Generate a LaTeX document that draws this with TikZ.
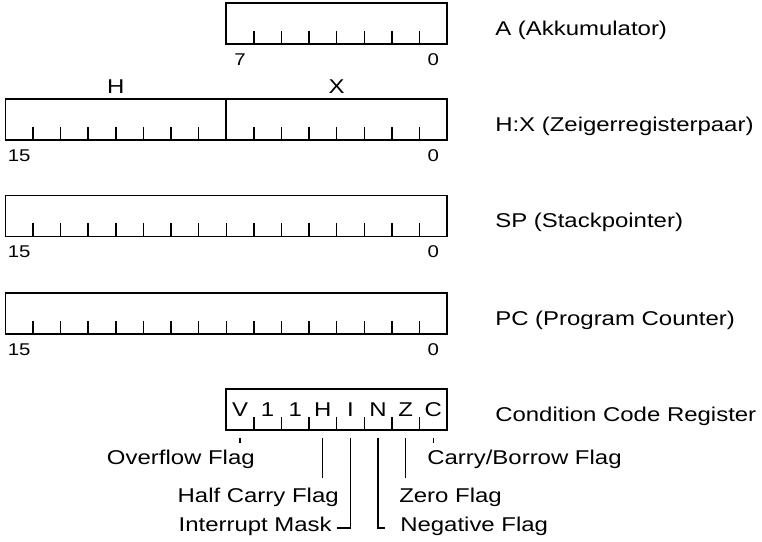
\documentclass[tikz,border=0pt]{standalone}
\usepackage{fontspec}
\setmainfont[FakeStretch=1.2]{Liberation Sans}
\usetikzlibrary{calc}

\begin{document}
\begin{tikzpicture}[
  reg/.style={draw,line width=1pt,minimum height=1.025cm,inner sep=0pt,outer sep=0pt},
  byte/.style={reg,minimum width=5.52cm},
  word/.style={reg,minimum width=11.04cm},
  tick/.style={line width=1pt},
  lead/.style={line width=0.8pt},
  lbl/.style={font=\fontsize{14.2}{17}\selectfont,inner sep=0pt},
  bitno/.style={font=\fontsize{12.1}{14}\selectfont,inner sep=0pt,anchor=base},
  bitname/.style={font=\fontsize{14.2}{17}\selectfont,inner sep=0pt,anchor=base},
]
\useasboundingbox (0,0) rectangle (19.05,13.55);

% === A (8 bit) ===
\node[byte] (acc) at (8.415,12.9625) {};
\foreach \i in {1,...,7}
  \draw[tick] ($(acc.south west)+(\i*0.69,0)$) -- ++(0,0.325);
\node[bitno] (acc7) at (6.0,11.92) {7};
\node[bitno] (acc0) at (10.83,11.92) {0};
\node[lbl,anchor=base west] (accname) at (12.375,12.66) {A (Akkumulator)};

% === H:X (2 x 8 bit) ===
\node[byte] (hreg) at (2.895,10.5625) {};
\node[byte] (xreg) at (8.415,10.5625) {};
\foreach \i in {1,...,7} {
  \draw[tick] ($(hreg.south west)+(\i*0.69,0)$) -- ++(0,0.325);
  \draw[tick] ($(xreg.south west)+(\i*0.69,0)$) -- ++(0,0.325);
}
\node[bitname] (hname) at (2.895,11.215) {H};
\node[bitname] (xname) at (8.415,11.215) {X};
\node[bitno] (hx15) at (0.48,9.52) {15};
\node[bitno] (hx0) at (10.83,9.52) {0};
\node[lbl,anchor=base west] (hxname) at (12.375,10.2625) {H:X (Zeigerregisterpaar)};

% === SP (16 bit) ===
\node[word] (sp) at (5.655,8.15) {};
\foreach \i in {1,...,15}
  \draw[tick] ($(sp.south west)+(\i*0.69,0)$) -- ++(0,0.325);
\node[bitno] (sp15) at (0.48,7.1075) {15};
\node[bitno] (sp0) at (10.83,7.1075) {0};
\node[lbl,anchor=base west] (spname) at (12.375,7.85) {SP (Stackpointer)};

% === PC (16 bit) ===
\node[word] (pc) at (5.655,5.71) {};
\foreach \i in {1,...,15}
  \draw[tick] ($(pc.south west)+(\i*0.69,0)$) -- ++(0,0.325);
\node[bitno] (pc15) at (0.48,4.6675) {15};
\node[bitno] (pc0) at (10.83,4.6675) {0};
\node[lbl,anchor=base west] (pcname) at (12.375,5.41) {PC (Program Counter)};

% === CCR ===
\node[byte] (ccr) at (8.415,3.31) {};
\foreach \i in {1,...,7}
  \draw[tick] ($(ccr.south west)+(\i*0.69,0)$) -- ++(0,0.325);
\node[bitname] (cV) at (6.0,3.1275) {V};
\node[bitname] (c6) at (6.69,3.1275) {1};
\node[bitname] (c5) at (7.38,3.1275) {1};
\node[bitname] (cH) at (8.07,3.1275) {H};
\node[bitname] (cI) at (8.76,3.1275) {I};
\node[bitname] (cN) at (9.45,3.1275) {N};
\node[bitname] (cZ) at (10.14,3.1275) {Z};
\node[bitname] (cC) at (10.83,3.1275) {C};
\node[lbl,anchor=base west] (ccrname) at (12.375,3.0) {Condition Code Register};

% Flags
\node[lbl,anchor=base east] (ovf) at (6.375,1.925) {Overflow Flag};
\node[lbl,anchor=base west] (cbf) at (10.675,1.925) {Carry/Borrow Flag};
\node[lbl,anchor=base east] (hcf) at (8.475,0.975) {Half Carry Flag};
\node[lbl,anchor=base west] (zf) at (9.975,0.975) {Zero Flag};
\node[lbl,anchor=base east] (im) at (8.3,0.25) {Interrupt Mask};
\node[lbl,anchor=base west] (nf) at (10.0,0.25) {Negative Flag};

\draw[lead] ($(ccr.south -| cV)+(0,-0.2)$) -- ++(0,-0.125);
\draw[lead] ($(ccr.south -| cC)+(0,-0.2)$) -- ++(0,-0.125);
\draw[lead] ($(ccr.south -| cH)+(0,-0.2)$) -- ++(0,-1.0);
\draw[lead] ($(ccr.south -| cZ)+(0,-0.2)$) -- ++(0,-1.0);
\draw[lead] ($(ccr.south -| cI)+(0,-0.2)$) |- ($(im.east)+(0.12,-0.03)$);
\draw[lead] ($(ccr.south -| cN)+(0,-0.2)$) |- ($(nf.west)+(-0.375,-0.03)$);

\end{tikzpicture}
\end{document}
